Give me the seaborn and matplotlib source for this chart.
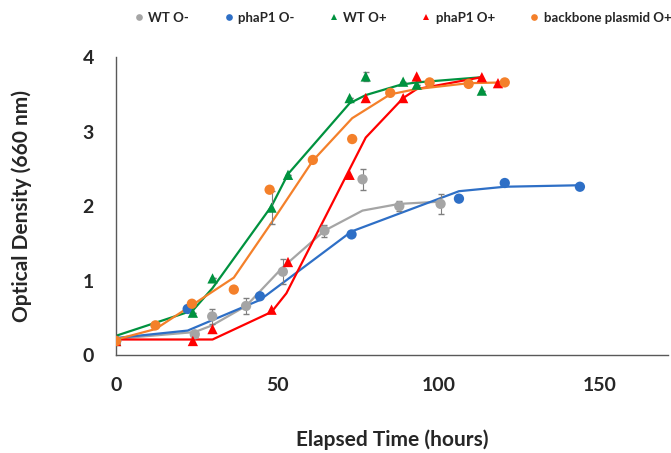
import matplotlib
matplotlib.use("Agg")
import matplotlib.pyplot as plt
import pandas as pd
import seaborn as sns

# measured points (time in hours, OD660)
wt_om_t = [0, 24.4, 29.8, 40.3, 51.7, 64.6, 76.4, 87.8, 100.6]
wt_om_od = [0.19, 0.28, 0.52, 0.66, 1.12, 1.67, 2.36, 2.00, 2.03]
wt_om_err = [0.0, 0.03, 0.10, 0.11, 0.17, 0.08, 0.14, 0.07, 0.13]

pha_om_t = [0, 22.2, 44.6, 73.0, 106.3, 120.5, 143.8]
pha_om_od = [0.19, 0.62, 0.79, 1.62, 2.10, 2.31, 2.26]

wt_op_t = [0, 23.8, 29.9, 48.2, 53.3, 72.4, 77.4, 89.0, 93.2, 113.4]
wt_op_od = [0.19, 0.57, 1.03, 1.98, 2.42, 3.45, 3.74, 3.67, 3.63, 3.55]
wt_op_err = [0.0, 0.0, 0.0, 0.22, 0.0, 0.0, 0.06, 0.0, 0.0, 0.0]

pha_op_t = [0, 23.8, 29.9, 48.2, 53.3, 72.4, 77.4, 89.0, 93.2, 113.4, 118.4]
pha_op_od = [0.19, 0.19, 0.35, 0.61, 1.25, 2.42, 3.45, 3.45, 3.74, 3.73, 3.65]

bb_op_t = [0, 12.2, 23.5, 36.5, 47.6, 61.0, 73.2, 85.0, 97.2, 109.3, 120.5]
bb_op_od = [0.19, 0.40, 0.69, 0.88, 2.22, 2.62, 2.90, 3.52, 3.66, 3.64, 3.66]

# fitted curves
wt_om_fit_t = [0, 24.4, 29.8, 40.3, 51.7, 64.6, 76.4, 87.8, 100.6]
wt_om_fit = [0.22, 0.31, 0.40, 0.66, 1.18, 1.67, 1.94, 2.03, 2.06]

pha_om_fit_t = [0, 22.2, 44.6, 73.0, 106.3, 120.5, 143.8]
pha_om_fit = [0.23, 0.33, 0.74, 1.66, 2.20, 2.26, 2.28]

wt_op_fit_t = [0, 23.8, 29.9, 48.2, 53.3, 72.4, 77.4, 88.3, 93.2, 113.4]
wt_op_fit = [0.26, 0.60, 0.90, 2.00, 2.43, 3.38, 3.49, 3.63, 3.66, 3.73]

pha_op_fit_t = [0, 29.9, 48.2, 52.8, 77.4, 89.0, 93.2, 113.4]
pha_op_fit = [0.21, 0.21, 0.58, 0.83, 2.92, 3.45, 3.57, 3.73]

bb_op_fit_t = [0, 12.2, 23.5, 36.5, 47.6, 61.0, 73.2, 85.0, 93.0, 109.3, 120.5]
bb_op_fit = [0.21, 0.35, 0.67, 1.04, 1.74, 2.61, 3.18, 3.50, 3.57, 3.65, 3.66]

series = ["WT O-", "phaP1 O-", "WT O+", "phaP1 O+", "backbone plasmid O+"]
colors = ["#A5A5A5", "#2E6FC6", "#00923F", "#FF0000", "#F4802A"]
markers = ["o", "o", "^", "^", "o"]

pts = pd.concat([
    pd.DataFrame({"t": wt_om_t, "od": wt_om_od, "s": series[0]}),
    pd.DataFrame({"t": pha_om_t, "od": pha_om_od, "s": series[1]}),
    pd.DataFrame({"t": wt_op_t, "od": wt_op_od, "s": series[2]}),
    pd.DataFrame({"t": pha_op_t, "od": pha_op_od, "s": series[3]}),
    pd.DataFrame({"t": bb_op_t, "od": bb_op_od, "s": series[4]}),
])
fits = pd.concat([
    pd.DataFrame({"t": wt_om_fit_t, "od": wt_om_fit, "s": series[0]}),
    pd.DataFrame({"t": pha_om_fit_t, "od": pha_om_fit, "s": series[1]}),
    pd.DataFrame({"t": wt_op_fit_t, "od": wt_op_fit, "s": series[2]}),
    pd.DataFrame({"t": pha_op_fit_t, "od": pha_op_fit, "s": series[3]}),
    pd.DataFrame({"t": bb_op_fit_t, "od": bb_op_fit, "s": series[4]}),
])

sns.set_style("white")
plt.rcParams['font.family'] = ['Lato', 'DejaVu Sans']

fig = plt.figure(figsize=(6.71, 4.53), dpi=100)
ax = fig.add_axes([0.173, 0.216, 0.822, 0.658])

palette = dict(zip(series, colors))
sns.lineplot(data=fits, x="t", y="od", hue="s", palette=palette, sort=False,
             estimator=None, linewidth=1.6, legend=False, ax=ax)

# error bars
ax.errorbar(wt_om_t, wt_om_od, yerr=wt_om_err, fmt="none", ecolor="#7F7F7F",
            elinewidth=0.8, capsize=2, zorder=3)
ax.errorbar(wt_op_t, wt_op_od, yerr=wt_op_err, fmt="none", ecolor="#7F7F7F",
            elinewidth=0.8, capsize=2, zorder=3)

sns.scatterplot(data=pts, x="t", y="od", hue="s", style="s", palette=palette,
                markers=dict(zip(series, markers)), s=55, linewidth=0,
                ax=ax, zorder=4)

handles, labels = ax.get_legend_handles_labels()
ax.legend_.remove()
fig.legend(handles, labels, loc="upper center", bbox_to_anchor=(0.597, 1.0),
           ncol=5, frameon=False, handletextpad=0.0, columnspacing=2.3,
           handlelength=1.4, markerscale=0.65, prop={"weight": "bold", "size": 9.5})

ax.set_xlim(0, 171)
ax.set_ylim(0, 4)
ax.set_xticks([0, 50, 100, 150])
ax.set_yticks([0, 1, 2, 3, 4])
ax.tick_params(axis="x", length=0, pad=16, labelsize=14)
ax.tick_params(axis="y", length=0, pad=16, labelsize=14)
for lab in ax.get_xticklabels() + ax.get_yticklabels():
    lab.set_fontweight("bold")

ax.set_xlabel("Elapsed Time (hours)", fontsize=15, fontweight="bold", labelpad=25)
ax.set_ylabel("Optical Density (660 nm)", fontsize=15, fontweight="bold", labelpad=36)

sns.despine(ax=ax)
for sp in ["left", "bottom"]:
    ax.spines[sp].set_color("#595959")
    ax.spines[sp].set_linewidth(1.0)

fig.savefig("out.png", dpi=100)
